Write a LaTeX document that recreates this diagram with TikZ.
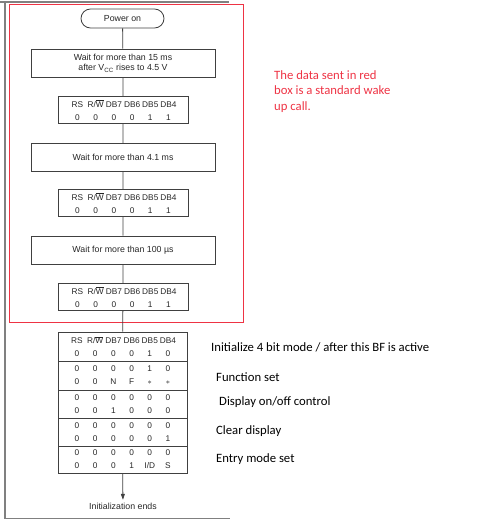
\documentclass[tikz,border=0pt]{standalone}
\usepackage{fontspec}
\setmainfont{Liberation Sans}
\newfontfamily\calib{Carlito}
\usetikzlibrary{arrows.meta,shapes.misc}
\definecolor{boxline}{HTML}{404040}
\definecolor{txtgray}{HTML}{262626}
\definecolor{wakered}{HTML}{EE3344}
\definecolor{framegray}{HTML}{808080}
\newcommand\bitcols[6]{\makebox[18.2pt]{#1}\makebox[18.2pt]{#2}\makebox[18.2pt]{#3}\makebox[18.2pt]{#4}\makebox[18.2pt]{#5}\makebox[18.2pt]{#6}}
\newcommand\rwbar{R/$\overline{\hbox{W}}$}
\begin{document}
\begin{tikzpicture}[x=1pt,y=-1pt,
  fc/.style={draw=boxline, line width=0.8pt, inner sep=0pt, text=txtgray,
    font=\fontsize{8.8}{10.5}\selectfont, align=center},
  waitbox/.style={fc, minimum width=184pt, minimum height=28pt},
  bitbox/.style={fc, minimum width=130pt, minimum height=27pt, font=\fontsize{8.3}{12.5}\selectfont},
  rowbox/.style={fc, minimum width=129pt, font=\fontsize{8.3}{13}\selectfont},
  conn/.style={draw=boxline, line width=0.8pt},
  note/.style={font=\calib\fontsize{12.7}{15.5}\selectfont, anchor=west, inner sep=0pt, align=left}]
\useasboundingbox (0,0) rectangle (500,522);
% outer gray frame (open on the right)
\draw[framegray, line width=1.5pt] (0,2) -- (5,2) -- (229,2);
\draw[framegray, line width=1.5pt] (5,2) -- (5,518.5) -- (230,518.5);
% red box
\draw[wakered, line width=0.9pt] (9,4.5) rectangle (243,322);

\node[fc, rounded rectangle, minimum width=83pt, minimum height=19pt] (pwr) at (122.5,18.5) {Power on};
\node[waitbox] (w1) at (123,63) {Wait for more than 15 ms\\after V\textsubscript{CC} rises to 4.5 V};
\node[bitbox] (b1) at (123,110) {\bitcols{RS}{\rwbar}{DB7}{DB6}{DB5}{DB4}\\\bitcols{0}{0}{0}{0}{1}{1}};
\node[waitbox] (w2) at (123,157.5) {Wait for more than 4.1 ms};
\node[bitbox] (b2) at (123,203) {\bitcols{RS}{\rwbar}{DB7}{DB6}{DB5}{DB4}\\\bitcols{0}{0}{0}{0}{1}{1}};
\node[waitbox] (w3) at (123,250) {Wait for more than 100 \textmu s};
\node[bitbox] (b3) at (123,297) {\bitcols{RS}{\rwbar}{DB7}{DB6}{DB5}{DB4}\\\bitcols{0}{0}{0}{0}{1}{1}};

\node[rowbox, minimum height=29pt] (t0) at (122.5,346.5) {\bitcols{RS}{\rwbar}{DB7}{DB6}{DB5}{DB4}\\\bitcols{0}{0}{0}{0}{1}{0}};
\node[rowbox, minimum height=29pt] (t1) at (122.5,375.5) {\bitcols{0}{0}{0}{0}{1}{0}\\\bitcols{0}{0}{N}{F}{$\ast$}{$\ast$}};
\node[rowbox, minimum height=28pt] (t2) at (122.5,404) {\bitcols{0}{0}{0}{0}{0}{0}\\\bitcols{0}{0}{1}{0}{0}{0}};
\node[rowbox, minimum height=28pt] (t3) at (122.5,432) {\bitcols{0}{0}{0}{0}{0}{0}\\\bitcols{0}{0}{0}{0}{0}{1}};
\node[rowbox, minimum height=27pt] (t4) at (122.5,459.5) {\bitcols{0}{0}{0}{0}{0}{0}\\\bitcols{0}{0}{0}{1}{I/D}{S}};

\node[text=txtgray, font=\fontsize{8.8}{10.5}\selectfont, inner sep=0pt, minimum height=12pt] (fin) at (123,506) {Initialization ends};

\path[conn] (pwr) -- (w1) (w1) -- (b1) (b1) -- (w2) (w2) -- (b2) (b2) -- (w3) (w3) -- (b3) (b3) -- (t0);
\draw[conn, -{Triangle[length=6pt,width=4pt]}] (t4) -- (fin);

\node[note, text=wakered] (wake) at (274,91.5) {The data sent in red\\box is a standard wake\\up call.};
\node[note] (n0) at (211,347) {Initialize 4 bit mode / after this BF is active};
\node[note] (n1) at (216,377) {Function set};
\node[note] (n2) at (219,402) {Display on/off control};
\node[note] (n3) at (216,431) {Clear display};
\node[note] (n4) at (216,459) {Entry mode set};
\end{tikzpicture}
\end{document}
